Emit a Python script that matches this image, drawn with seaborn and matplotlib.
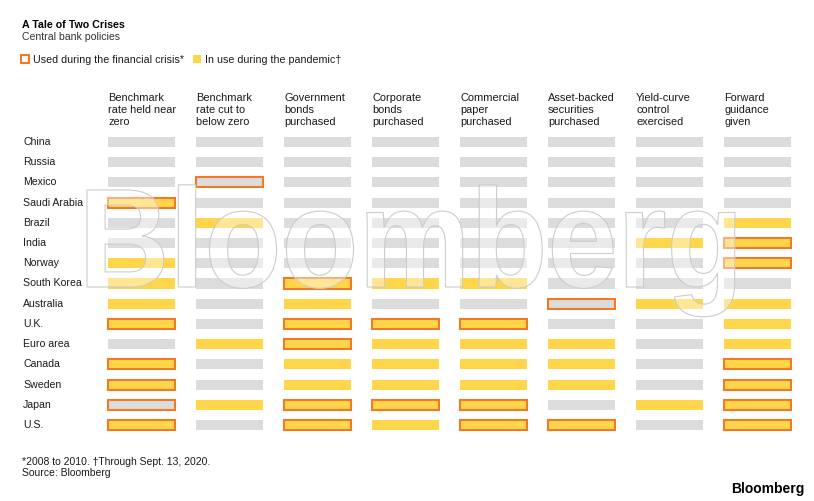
import matplotlib
matplotlib.use("Agg")
import matplotlib.pyplot as plt
import matplotlib.transforms as mtransforms
from matplotlib.patches import Patch, PathPatch
from matplotlib.textpath import TextPath
from matplotlib.font_manager import FontProperties
import seaborn as sns

countries = ["China", "Russia", "Mexico", "Saudi Arabia", "Brazil", "India", "Norway",
             "South Korea", "Australia", "U.K.", "Euro area", "Canada", "Sweden",
             "Japan", "U.S."]

policies = ["Benchmark\nrate held near\nzero", "Benchmark\nrate cut to\nbelow zero",
            "Government\nbonds\npurchased", "Corporate\nbonds\npurchased",
            "Commercial\npaper\npurchased", "Asset-backed\nsecurities\npurchased",
            "Yield-curve\ncontrol\nexercised", "Forward\nguidance\ngiven"]

# 1 = in use during the pandemic (yellow fill)
pandemic = [
    [0, 0, 0, 0, 0, 0, 0, 0],  # China
    [0, 0, 0, 0, 0, 0, 0, 0],  # Russia
    [0, 0, 0, 0, 0, 0, 0, 0],  # Mexico
    [1, 0, 0, 0, 0, 0, 0, 0],  # Saudi Arabia
    [0, 1, 0, 0, 0, 0, 0, 1],  # Brazil
    [0, 0, 0, 0, 0, 0, 1, 1],  # India
    [1, 0, 0, 0, 0, 0, 0, 1],  # Norway
    [1, 0, 1, 1, 1, 0, 0, 0],  # South Korea
    [1, 0, 1, 0, 0, 0, 1, 1],  # Australia
    [1, 0, 1, 1, 1, 0, 0, 1],  # U.K.
    [0, 1, 1, 1, 1, 1, 0, 1],  # Euro area
    [1, 0, 1, 1, 1, 1, 0, 1],  # Canada
    [1, 0, 1, 1, 1, 1, 0, 1],  # Sweden
    [0, 1, 1, 1, 1, 0, 1, 1],  # Japan
    [1, 0, 1, 1, 1, 1, 0, 1],  # U.S.
]

# 1 = used during the financial crisis (orange outline)
crisis = [
    [0, 0, 0, 0, 0, 0, 0, 0],  # China
    [0, 0, 0, 0, 0, 0, 0, 0],  # Russia
    [0, 1, 0, 0, 0, 0, 0, 0],  # Mexico
    [1, 0, 0, 0, 0, 0, 0, 0],  # Saudi Arabia
    [0, 0, 0, 0, 0, 0, 0, 0],  # Brazil
    [0, 0, 0, 0, 0, 0, 0, 1],  # India
    [0, 0, 0, 0, 0, 0, 0, 1],  # Norway
    [0, 0, 1, 0, 0, 0, 0, 0],  # South Korea
    [0, 0, 0, 0, 0, 1, 0, 0],  # Australia
    [1, 0, 1, 1, 1, 0, 0, 0],  # U.K.
    [0, 0, 1, 0, 0, 0, 0, 0],  # Euro area
    [1, 0, 0, 0, 0, 0, 0, 1],  # Canada
    [1, 0, 0, 0, 0, 0, 0, 1],  # Sweden
    [1, 0, 1, 1, 1, 0, 0, 1],  # Japan
    [1, 0, 1, 0, 1, 1, 0, 1],  # U.S.
]

GRAY = "#dcdcdc"
YELLOW = "#ffd54a"
ORANGE = "#f07a28"
TEXT = "#1a1a1a"

sns.set_theme(style="white")
plt.rcParams["font.family"] = ["Liberation Sans", "DejaVu Sans"]

W, H = 814, 501
fig = plt.figure(figsize=(W / 100, H / 100), dpi=100)

def fx(px):
    return px / W

def fy(py):
    return 1 - py / H

# grid axes: column centers 141.5..757.5 px, row centers 142..425 px
ax = fig.add_axes([fx(97.5), fy(435.1), fx(704), 303.2 / H])
ax.set_xlim(-0.5, len(policies) - 0.5)
ax.set_ylim(len(countries) - 0.5, -0.5)
ax.axis("off")

rows = list(range(len(countries)))
for j in range(len(policies)):
    fills = [YELLOW if pandemic[i][j] else GRAY for i in rows]
    edges = [ORANGE if crisis[i][j] else "none" for i in rows]
    ax.barh(rows, 0.76, left=j - 0.38, height=0.5, color=fills,
            edgecolor=edges, linewidth=1.5, zorder=2)

# watermark, squeezed to the condensed look of the original
wm_font = FontProperties(family="Liberation Sans", weight="bold")
wm_path = TextPath((0, 0), "Bloomberg", size=1, prop=wm_font)
cap = TextPath((0, 0), "B", size=1, prop=wm_font).get_extents()
ext = wm_path.get_extents()
sx = (735 - 87) / ext.width
sy = 97 / cap.height
wm_tr = mtransforms.Affine2D().scale(sx, sy).translate(87 - ext.x0 * sx, H - 287)
fig.patches.append(PathPatch(wm_path, transform=wm_tr, facecolor="white", alpha=0.42,
                             edgecolor="none", zorder=5))
fig.patches.append(PathPatch(wm_path, transform=wm_tr, facecolor="none",
                             edgecolor="#cccccc", linewidth=0.8, zorder=5))

# row labels
row_tr = mtransforms.blended_transform_factory(fig.transFigure, ax.transData)
for i, c in enumerate(countries):
    fig.text(fx(23), i, c, transform=row_tr, fontsize=7.6, color=TEXT,
             ha="left", va="center", zorder=6)

# column headers
col_tr = mtransforms.blended_transform_factory(ax.transData, fig.transFigure)
for j, p in enumerate(policies):
    fig.text(j - 0.38, fy(93.5), p, transform=col_tr, fontsize=7.9, color=TEXT,
             ha="left", va="top", linespacing=1.2)

# title block
fig.text(fx(22), fy(28), "A Tale of Two Crises", fontsize=7.7, fontweight="bold",
         color="black", ha="left", va="baseline")
fig.text(fx(22), fy(40), "Central bank policies", fontsize=7.6, color="#333333",
         ha="left", va="baseline")

handles = [Patch(facecolor="white", edgecolor=ORANGE, linewidth=1.5),
           Patch(facecolor=YELLOW, edgecolor="none")]
fig.legend(handles, ["Used during the financial crisis*", "In use during the pandemic\u2020"],
           loc="center left", bbox_to_anchor=(fx(21), fy(60)), ncol=2, frameon=False,
           fontsize=7.7, handlelength=0.75, handleheight=0.75, handletextpad=0.4,
           columnspacing=0.8, borderpad=0, borderaxespad=0, labelcolor=TEXT)

# footer
fig.text(fx(22), fy(465), "*2008 to 2010. \u2020Through Sept. 13, 2020.", fontsize=7.5,
         color=TEXT, ha="left", va="baseline")
fig.text(fx(22), fy(476), "Source: Bloomberg", fontsize=7.5, color=TEXT,
         ha="left", va="baseline")
fig.text(fx(805), fy(493), "Bloomberg", fontsize=10, fontweight="bold",
         color="black", ha="right", va="baseline")

fig.savefig("out.png", dpi=100, facecolor="white")
